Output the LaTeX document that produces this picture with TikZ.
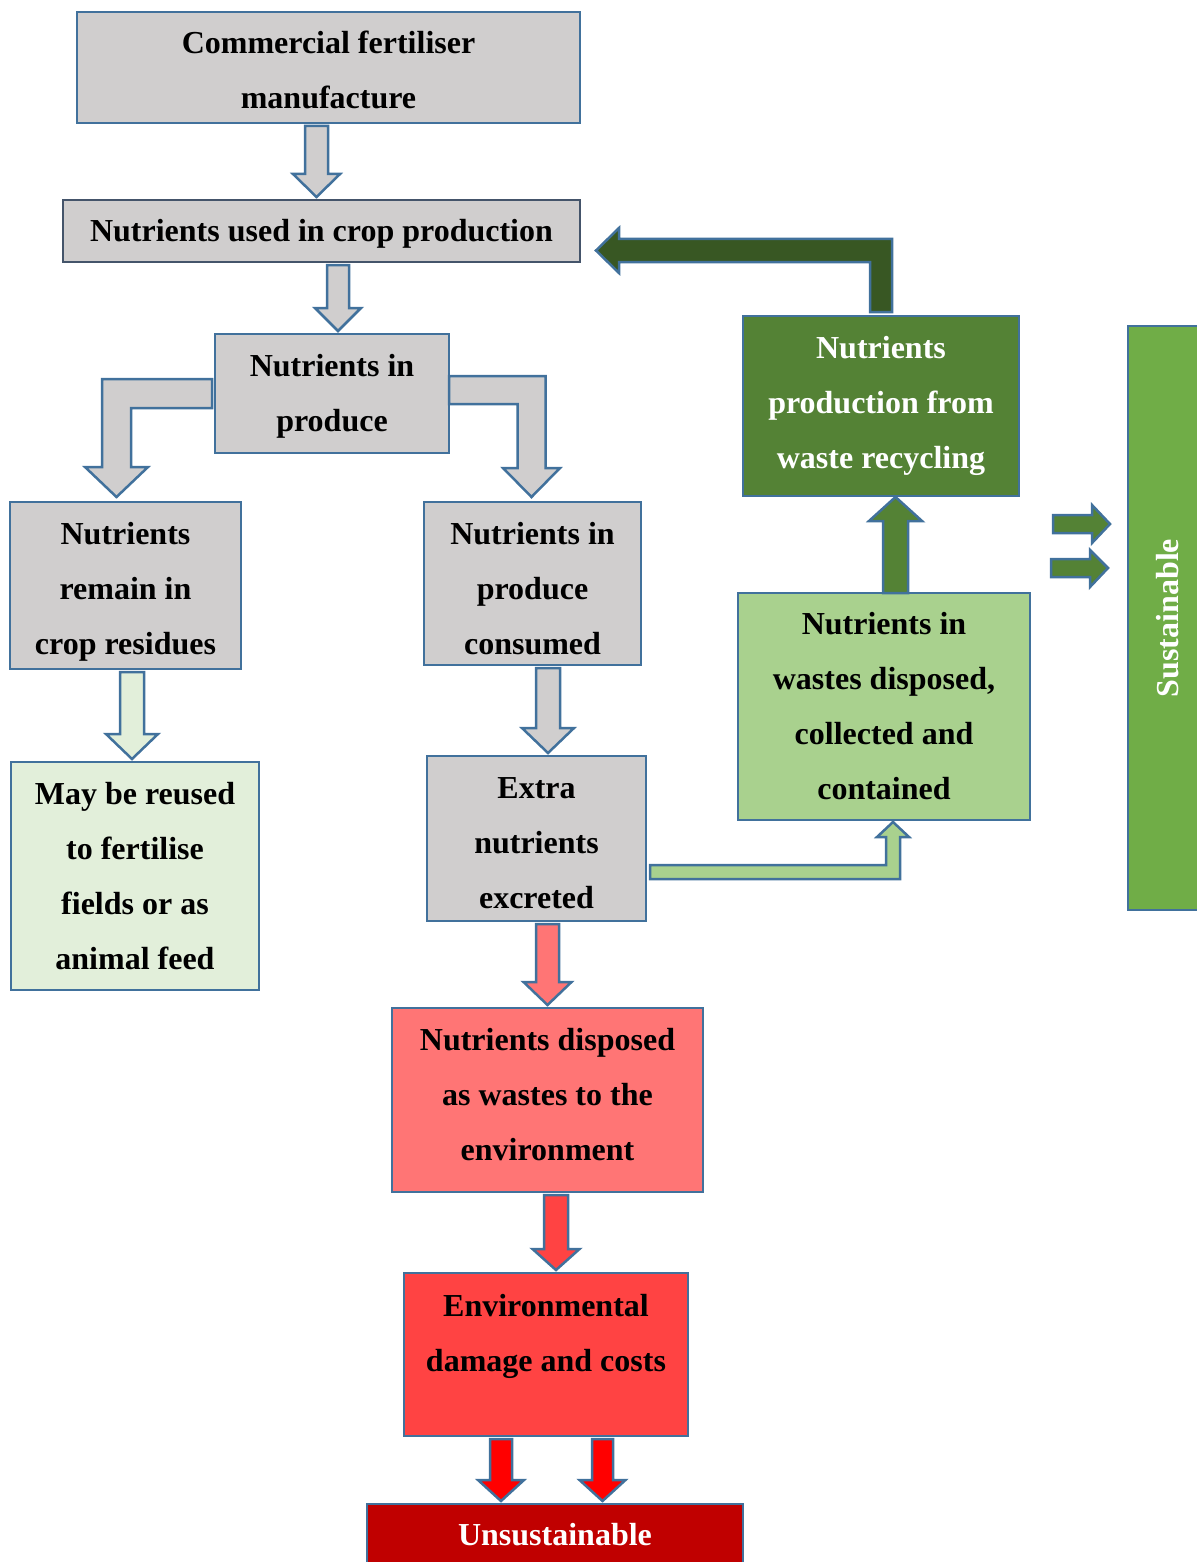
\documentclass[tikz,border=0pt]{standalone}
\usepackage{fontspec}
\setmainfont{Liberation Serif}
\usetikzlibrary{calc}
\definecolor{cGray}{HTML}{D0CECE}
\definecolor{cBlue}{HTML}{41719C}
\definecolor{cSlate}{HTML}{44546A}
\definecolor{cLGreen}{HTML}{E2EFDA}
\definecolor{cRedA}{HTML}{FF7575}
\definecolor{cRedB}{HTML}{FF4343}
\definecolor{cRedC}{HTML}{FF0000}
\definecolor{cDRed}{HTML}{C00000}
\definecolor{cGreen}{HTML}{548235}
\definecolor{cDGreen}{HTML}{385723}
\definecolor{cMGreen}{HTML}{A9D18E}
\definecolor{cSGreen}{HTML}{70AD47}
% vertical block arrow pointing down: #1 fill, #2 x, #3 shaft half width, #4 head half width, #5 head length, #6 from, #7 to
\newcommand\blkdown[7]{%
  \draw[blk,fill=#1] let \p1=(#6), \p2=(#7) in
    (#2pt-#3pt,\y1-3pt) -- (#2pt+#3pt,\y1-3pt) -- (#2pt+#3pt,\y2+3pt+#5pt) --
    (#2pt+#4pt,\y2+3pt+#5pt) -- (#2pt,\y2+3pt) -- (#2pt-#4pt,\y2+3pt+#5pt) --
    (#2pt-#3pt,\y2+3pt+#5pt) -- cycle;}
\begin{document}
\begin{tikzpicture}[x=1pt,y=1pt,
  box/.style={draw=cBlue, line width=2.5pt, inner sep=0pt, outer sep=0pt,
    anchor=north west, align=center, text=black,
    font=\bfseries\fontsize{32}{55}\selectfont},
  lbl/.style={align=center, inner sep=0pt, font=\bfseries\fontsize{32}{55}\selectfont},
  blk/.style={draw=cBlue, line width=2.5pt, line join=miter}]
\useasboundingbox (0,0) rectangle (1196,-1562);

% boxes
\node[box, fill=cGray, minimum width=503, minimum height=111] (b1) at (77,-12) {};
\node[lbl] (b1t) at ($(b1.center)+(0,-2)$) {Commercial fertiliser\\manufacture};
\node[box, draw=cSlate, fill=cGray, minimum width=517, minimum height=62] (b2) at (63,-200) {};
\node[lbl] (b2t) at ($(b2.center)+(0,-3)$) {Nutrients used in crop production};
\node[box, fill=cGray, minimum width=234, minimum height=119] (b3) at (215,-334) {};
\node[lbl] (b3t) at ($(b3.center)+(0,-3)$) {Nutrients in\\produce};
\node[box, fill=cGray, minimum width=231, minimum height=167] (b4) at (10,-502) {};
\node[lbl] (b4t) at ($(b4.center)+(0,-6)$) {Nutrients\\remain in\\crop residues};
\node[box, fill=cGray, minimum width=217, minimum height=163] (b5) at (424,-502) {};
\node[lbl] (b5t) at ($(b5.center)+(0,-5)$) {Nutrients in\\produce\\consumed};
\node[box, fill=cLGreen, minimum width=248, minimum height=228] (b6) at (11,-762) {May be reused\\to fertilise\\fields or as\\animal feed};
\node[box, fill=cGray, minimum width=219, minimum height=165] (b7) at (427,-756) {};
\node[lbl] (b7t) at ($(b7.center)+(0,-5)$) {Extra\\nutrients\\excreted};
\node[box, fill=cRedA, minimum width=311, minimum height=184] (b8) at (392,-1008) {};
\node[lbl] (b8t) at ($(b8.center)+(0,5)$) {Nutrients disposed\\as wastes to the\\environment};
\node[box, fill=cRedB, minimum width=284, minimum height=163] (b9) at (404,-1273) {};
\node[lbl] (b9t) at (546,-1336.5) {Environmental\\damage and costs};
\node[box, fill=cDRed, text=white, minimum width=376, minimum height=62] (b10) at (367,-1504) {Unsustainable};
\node[box, fill=cGreen, text=white, minimum width=276, minimum height=180] (b11) at (743,-316) {Nutrients\\production from\\waste recycling};
\node[box, fill=cMGreen, minimum width=292, minimum height=227] (b12) at (738,-593) {Nutrients in\\wastes disposed,\\collected and\\contained};
\node[box, anchor=center, rotate=90, fill=cSGreen, text=white, minimum width=584, minimum height=80] (b13) at (1168,-618) {Sustainable};

% straight block arrows
\blkdown{cGray}{316.5}{11.5}{23.5}{23}{b1.south}{b2.north}
\blkdown{cGray}{338}{11}{23}{23}{b2.south}{b3.north}
\blkdown{cLGreen}{132}{12}{26}{25}{b4.south}{b6.north}
\blkdown{cGray}{548}{12}{26}{25}{b5.south}{b7.north}
\blkdown{cRedA}{547.5}{11.5}{24}{23}{b7.south}{b8.north}
\blkdown{cRedB}{556}{12}{23.5}{21}{b8.south}{b9.north}
\blkdown{cRedC}{501}{11}{23}{21}{b9.south}{b10.north}
\blkdown{cRedC}{602.5}{10.5}{23}{21}{b9.south}{b10.north}

% bent arrow left
\draw[blk, fill=cGray] let \p1=(b3.west), \p2=(b4.north) in
  (\x1-3pt,-379pt) -- (102pt,-379pt) -- (102pt,-467pt) -- (85pt,-467pt) --
  (116.5pt,\y2+5pt) -- (148pt,-467pt) -- (131pt,-467pt) -- (131pt,-408pt) --
  (\x1-3pt,-408pt) -- cycle;
% bent arrow right
\draw[blk, fill=cGray] let \p1=(b3.east), \p2=(b5.north) in
  (\x1,-376pt) -- (545.5pt,-376pt) -- (545.5pt,-468pt) -- (560pt,-468pt) --
  (531.5pt,\y2+5pt) -- (503pt,-468pt) -- (517.5pt,-468pt) -- (517.5pt,-404pt) --
  (\x1,-404pt) -- cycle;
% recycling arrow back to crop production
\draw[blk, fill=cDGreen] let \p1=(b11.north), \p2=(b2.east) in
  (870pt,\y1+4pt) -- (870pt,-262pt) -- (619pt,-262pt) -- (619pt,-273pt) --
  (\x2+16pt,-250.5pt) -- (619pt,-228pt) -- (619pt,-239pt) -- (892pt,-239pt) --
  (892pt,\y1+4pt) -- cycle;
% excreted to collected
\draw[blk, fill=cMGreen] let \p1=(b7.east), \p2=(b12.south) in
  (\x1+4pt,-865pt) -- (886pt,-865pt) -- (886pt,-837pt) -- (877pt,-837pt) --
  (893pt,\y2-2pt) -- (909pt,-837pt) -- (900pt,-837pt) -- (900pt,-879pt) --
  (\x1+4pt,-879pt) -- cycle;
% collected up to recycling
\draw[blk, fill=cGreen] let \p1=(b12.north), \p2=(b11.south) in
  (883pt,\y1) -- (883pt,\y2-25pt) -- (869pt,\y2-25pt) -- (895.5pt,\y2-1pt) --
  (922pt,\y2-25pt) -- (908pt,\y2-25pt) -- (908pt,\y1) -- cycle;
% two arrows toward sustainable (node rotated: its north is the left side)
\draw[blk, fill=cGreen] let \p1=(b13.north) in
  (1053pt,-515pt) -- (1092pt,-515pt) -- (1092pt,-505pt) -- (\x1-18pt,-524pt) --
  (1092pt,-543pt) -- (1092pt,-533pt) -- (1053pt,-533pt) -- cycle;
\draw[blk, fill=cGreen] let \p1=(b13.north) in
  (1051pt,-559pt) -- (1090pt,-559pt) -- (1090pt,-550pt) -- (\x1-20pt,-568pt) --
  (1090pt,-587pt) -- (1090pt,-577pt) -- (1051pt,-577pt) -- cycle;
\end{tikzpicture}
\end{document}
